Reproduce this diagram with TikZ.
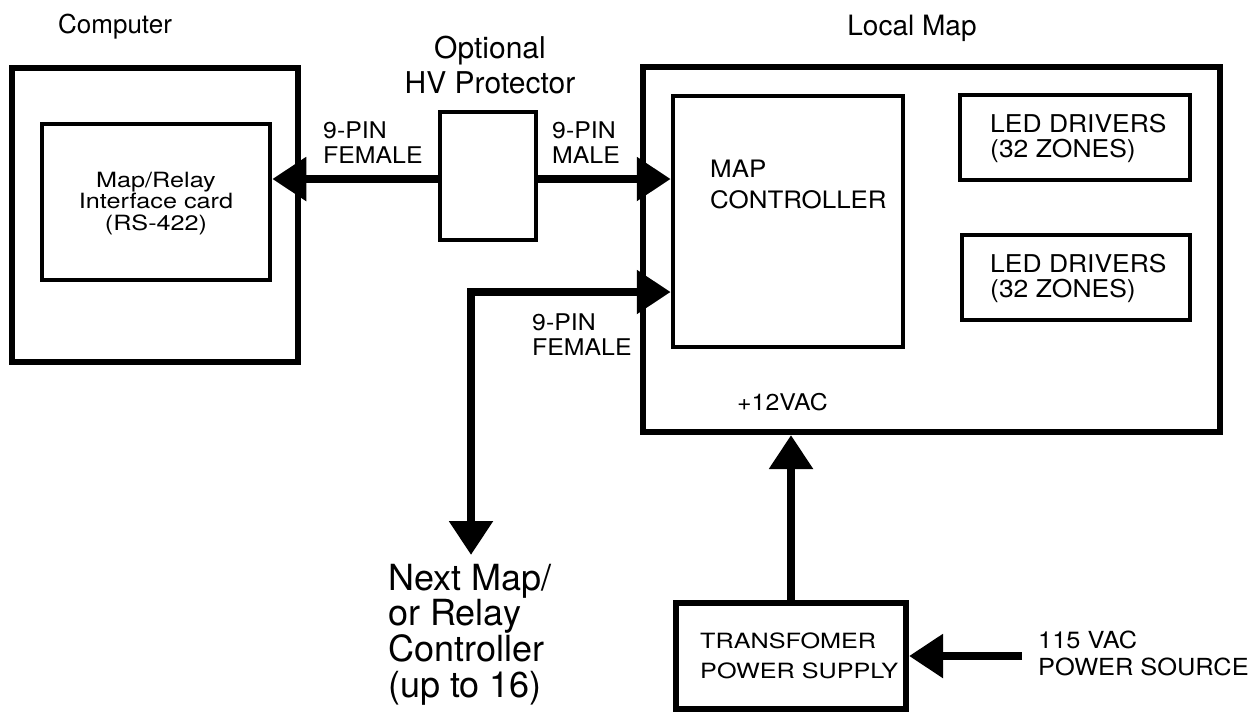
\documentclass[tikz,border=0pt]{standalone}
\usepackage{fontspec}
\setmainfont{TeX Gyre Heros}
\newfontfamily\widesans[FakeStretch=1.08]{TeX Gyre Heros}
\newfontfamily\widersans[FakeStretch=1.2]{TeX Gyre Heros}
\usetikzlibrary{arrows.meta}
% multi-line labels: baseline is that of the first line, lines exactly \baselineskip apart
\newcommand\lstack[1]{\vtop{\lineskiplimit=-\maxdimen\halign{##\hfil\cr#1\crcr}}}
\newcommand\cstack[1]{\vtop{\lineskiplimit=-\maxdimen\halign{\hfil##\hfil\cr#1\crcr}}}
\newcommand\fs[2]{\fontsize{#1}{#2}\selectfont}

\begin{document}
\begin{tikzpicture}[x=1pt,y=-1pt,
  outerbox/.style={draw, line width=6pt, rectangle, inner sep=0pt},
  innerbox/.style={draw, line width=4.5pt, rectangle, inner sep=0pt},
  bus/.style={line width=8.5pt, line join=miter},
  bushead/.style={-{Triangle[length=34pt,width=42pt]}},
  busboth/.style={{Triangle[length=34pt,width=42pt]}-{Triangle[length=34pt,width=42pt]}},
  lbl/.style={inner sep=0pt, anchor=base west},
  clbl/.style={inner sep=0pt, anchor=base}]

\useasboundingbox (0,0) rectangle (1260,713);
\fill[white] (0,0) rectangle (1260,713);

% computer and its interface card
\node[outerbox, minimum width=286pt, minimum height=294pt] (computer) at (155,215) {};
\node[innerbox, minimum width=228pt, minimum height=156pt] (iface) at (156,202) {};
\node[clbl, font=\fs{26}{30}] (computerlbl) at (115,33) {Computer};
\node[clbl, font=\widersans\fs{21}{21.5}] (ifacelbl) at (156,187)
  {\cstack{Map/Relay\cr Interface card\cr (RS-422)}};

% surge protector
\node[innerbox, minimum width=96pt, minimum height=128pt] (hv) at (488,176) {};
\node[clbl, font=\fs{30}{35}] (hvlbl) at (490,58) {\cstack{Optional\cr HV Protector}};

% local map enclosure
\node[outerbox, minimum width=577pt, minimum height=365pt] (local) at (931.5,249.5) {};
\node[clbl, font=\fs{28}{32}] (locallbl) at (912,35) {Local Map};
\node[innerbox, minimum width=230pt, minimum height=251pt] (mapctrl) at (788,221.5) {};
\node[innerbox, minimum width=230pt, minimum height=85pt] (leda) at (1075,137.5) {};
\node[innerbox, minimum width=228pt, minimum height=85pt] (ledb) at (1076,277.5) {};
\node[lbl, font=\widesans\fs{24}{31}] (mapctrllbl) at (710,177) {\lstack{MAP\cr CONTROLLER}};
\node[lbl, font=\widesans\fs{24.5}{25}] (ledalbl) at (990,132) {\lstack{LED DRIVERS\cr (32 ZONES)}};
\node[lbl, font=\widesans\fs{24.5}{25}] (ledblbl) at (990,272) {\lstack{LED DRIVERS\cr (32 ZONES)}};
\node[lbl, font=\widesans\fs{23}{25}] (vaclbl) at (737,410) {+12VAC};

% transformer
\node[outerbox, minimum width=230pt, minimum height=106pt] (xfmr) at (791,656) {};
\node[lbl, font=\widersans\fs{21}{30}] (xfmrlbl) at (700,648) {\lstack{TRANSFOMER\cr POWER SUPPLY}};
\node[lbl, font=\widesans\fs{23.5}{27}] (srclbl) at (1038,648) {\lstack{115 VAC\cr POWER SOURCE}};

% connector labels
\node[lbl, font=\widesans\fs{23}{25}] (pina) at (323,138) {\lstack{9-PIN\cr FEMALE}};
\node[lbl, font=\widesans\fs{23}{25}] (pinb) at (552,138) {\lstack{9-PIN\cr MALE}};
\node[lbl, font=\widesans\fs{23}{25}] (pinc) at (532,330) {\lstack{9-PIN\cr FEMALE}};
\node[lbl, font=\fs{36}{35.7}] (nextmap) at (388,590)
  {\lstack{Next Map/\cr or Relay\cr Controller\cr (up to 16)}};

% connectors
\coordinate (ytop) at (0,179);
\coordinate (ylow) at (0,292);
\coordinate (busend) at (471,555);
\coordinate (src) at (1022,656);

\draw[bus, bushead] (hv.west |- ytop) -- (iface.east |- ytop);
\draw[bus, bushead] (hv.east |- ytop) -- (mapctrl.west |- ytop);
\draw[bus, busboth] (busend) |- (mapctrl.west |- ylow);
\draw[bus, bushead] (xfmr.north) -- (local.south -| xfmr.north);
\draw[bus, bushead] (src) -- (xfmr.east |- src);
\end{tikzpicture}
\end{document}
